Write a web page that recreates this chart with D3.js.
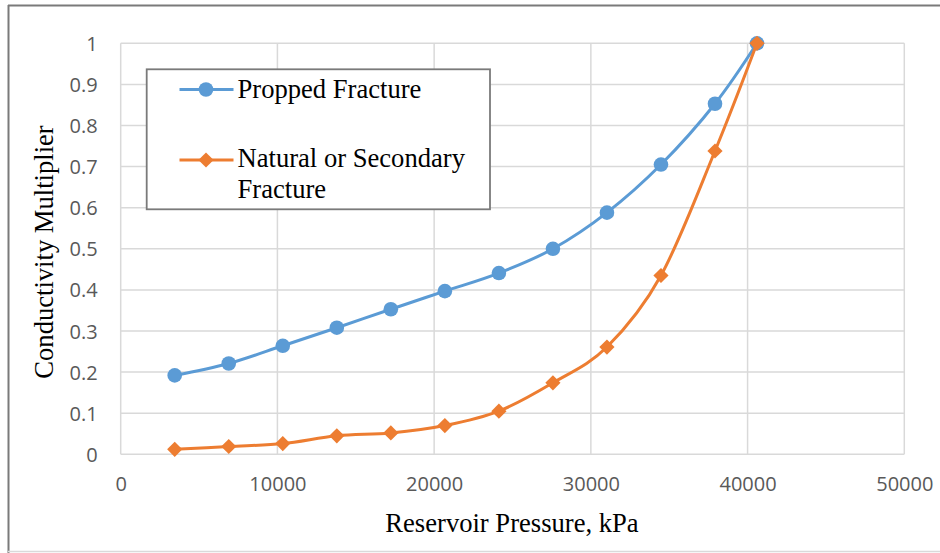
<!DOCTYPE html>
<html>
<head>
<meta charset="utf-8">
<script src="https://cdn.jsdelivr.net/npm/d3@7/dist/d3.min.js"></script>
<style>
  html, body { margin: 0; padding: 0; background: #fff; }
  svg { display: block; }
</style>
</head>
<body>
<svg id="chart" width="940" height="553"></svg>
<script>
// Reservoir pressure (kPa) at each sample
const pressure = [3447, 6895, 10342, 13790, 17237, 20684, 24132, 27579, 31026, 34474, 37921, 40600];
// Conductivity multipliers per fracture type
const proppedValues = [0.192, 0.221, 0.264, 0.308, 0.353, 0.397, 0.441, 0.500, 0.588, 0.705, 0.853, 1.0];
const naturalValues = [0.012, 0.019, 0.026, 0.045, 0.052, 0.070, 0.105, 0.174, 0.261, 0.435, 0.738, 1.0];
const seriesNames = ["Propped Fracture", "Natural or Secondary Fracture"];
const xTicks = [0, 10000, 20000, 30000, 40000, 50000];
const yTicks = [0, 0.1, 0.2, 0.3, 0.4, 0.5, 0.6, 0.7, 0.8, 0.9, 1];

const svg = d3.select("#chart");
const W = 940, H = 553;
const plot = { left: 120.7, right: 904.3, top: 43.3, bottom: 454.3 };

const x = d3.scaleLinear().domain([0, 50000]).range([plot.left, plot.right]);
const y = d3.scaleLinear().domain([0, 1]).range([plot.bottom, plot.top]);

const blue = "#5B9BD5", orange = "#ED7D31", grid = "#d9d9d9";
const serif = "'Liberation Serif', 'Times New Roman', serif";
const sans = "'Open Sans', 'Liberation Sans', sans-serif";
const titleSize = 26.6;

// Outer chart frame
svg.append("line").attr("x1", 8.5).attr("x2", 8.5).attr("y1", 5).attr("y2", H)
  .attr("stroke", "#7a7a7a").attr("stroke-width", 2);
svg.append("line").attr("x1", 8).attr("x2", W).attr("y1", 5.5).attr("y2", 5.5)
  .attr("stroke", "#7a7a7a").attr("stroke-width", 2);
svg.append("line").attr("x1", 8).attr("x2", W).attr("y1", 551.5).attr("y2", 551.5)
  .attr("stroke", "#dadada").attr("stroke-width", 1.5);

// Gridlines
const gGrid = svg.append("g");
gGrid.selectAll("line.h").data(yTicks).enter().append("line")
  .attr("x1", plot.left).attr("x2", plot.right)
  .attr("y1", d => y(d)).attr("y2", d => y(d))
  .attr("stroke", grid).attr("stroke-width", 1.5);
gGrid.selectAll("line.v").data(xTicks).enter().append("line")
  .attr("y1", plot.top).attr("y2", plot.bottom)
  .attr("x1", d => x(d)).attr("x2", d => x(d))
  .attr("stroke", grid).attr("stroke-width", 1.5);

// Axes (labels only; grid forms the frame)
const xAxis = d3.axisBottom(x).tickValues(xTicks).tickSize(0).tickPadding(0).tickFormat(d3.format("d"));
const gx = svg.append("g").attr("transform", `translate(0,${plot.bottom})`).call(xAxis);
gx.select(".domain").remove();
gx.selectAll("text").attr("y", 37).attr("dy", 0)
  .attr("font-family", sans).attr("font-size", 20).attr("fill", "#595959");

const yAxis = d3.axisLeft(y).tickValues(yTicks).tickSize(0).tickPadding(0).tickFormat(d => d3.format("")(d));
const gy = svg.append("g").attr("transform", `translate(${plot.left},0)`).call(yAxis);
gy.select(".domain").remove();
gy.selectAll("text").attr("x", -23).attr("dy", "0.35em")
  .attr("font-family", sans).attr("font-size", 20).attr("fill", "#595959");

// Axis titles
svg.append("text").attr("x", 512).attr("y", 531.5).attr("text-anchor", "middle")
  .attr("font-family", serif).attr("font-size", titleSize).attr("fill", "#000")
  .text("Reservoir Pressure, kPa");
svg.append("text").attr("transform", "translate(53,252) rotate(-90)").attr("text-anchor", "middle")
  .attr("font-family", serif).attr("font-size", titleSize).attr("fill", "#000")
  .text("Conductivity Multiplier");

// Series
const line = d3.line().x(d => x(d[0])).y(d => y(d[1])).curve(d3.curveCatmullRom.alpha(0));
const proppedData = pressure.map((p, i) => [p, proppedValues[i]]);
const naturalData = pressure.map((p, i) => [p, naturalValues[i]]);

const diamondPath = r => `M0,${-r}L${r},0L0,${r}L${-r},0Z`;

svg.append("path").datum(proppedData).attr("d", line)
  .attr("fill", "none").attr("stroke", blue).attr("stroke-width", 3);
svg.append("g").selectAll("circle").data(proppedData).enter().append("circle")
  .attr("cx", d => x(d[0])).attr("cy", d => y(d[1])).attr("r", 7.3).attr("fill", blue);

svg.append("path").datum(naturalData).attr("d", line)
  .attr("fill", "none").attr("stroke", orange).attr("stroke-width", 3);
svg.append("g").selectAll("path").data(naturalData).enter().append("path")
  .attr("transform", d => `translate(${x(d[0])},${y(d[1])})`)
  .attr("d", diamondPath(7.6)).attr("fill", orange);

// Legend
const lg = svg.append("g");
lg.append("rect").attr("x", 146.7).attr("y", 69.3).attr("width", 343.3).attr("height", 140)
  .attr("fill", "#fff").attr("stroke", "#7a7a7a").attr("stroke-width", 1.8);
const legendRows = [
  { color: blue, y: 89.5, shape: "circle", lines: [seriesNames[0]], base: 97.7 },
  { color: orange, y: 160, shape: "diamond", lines: ["Natural or Secondary", "Fracture"], base: 167.3 }
];
legendRows.forEach(r => {
  lg.append("line").attr("x1", 179.5).attr("x2", 233.5).attr("y1", r.y).attr("y2", r.y)
    .attr("stroke", r.color).attr("stroke-width", 3);
  if (r.shape === "circle") {
    lg.append("circle").attr("cx", 206).attr("cy", r.y).attr("r", 7.3).attr("fill", r.color);
  } else {
    lg.append("path").attr("transform", `translate(206,${r.y})`).attr("d", diamondPath(7.6)).attr("fill", r.color);
  }
  r.lines.forEach((t, i) => {
    lg.append("text").attr("x", 237.5).attr("y", r.base + i * 31)
      .attr("font-family", serif).attr("font-size", titleSize).attr("fill", "#000").text(t);
  });
});
</script>
</body>
</html>
